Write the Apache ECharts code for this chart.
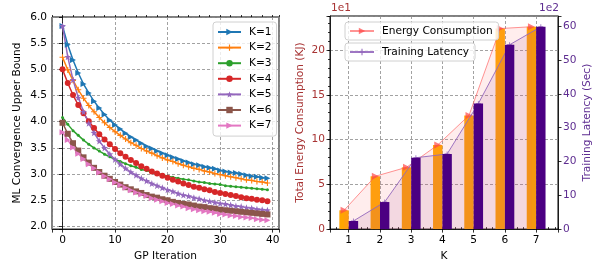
<!DOCTYPE html>
<html>
<head>
<meta charset="utf-8">
<script src="https://cdn.jsdelivr.net/npm/echarts@6/dist/echarts.min.js"></script>
<style>
  html, body { margin: 0; padding: 0; background: #fff; }
  #chart { width: 594px; height: 267px; }
</style>
</head>
<body>
<div id="chart"></div>
<script>
  // left panel: bound vs GP iteration, one curve per K
  const iterations = [...Array(40).keys()]
  const kLabels = ['K=1', 'K=2', 'K=3', 'K=4', 'K=5', 'K=6', 'K=7']
  const conv1 = [5.83, 5.47, 5.18, 4.93, 4.72, 4.55, 4.39, 4.26, 4.14, 4.03, 3.94, 3.86, 3.78, 3.71, 3.65, 3.59, 3.53, 3.49, 3.44, 3.40,
                 3.36, 3.32, 3.29, 3.25, 3.22, 3.19, 3.17, 3.14, 3.12, 3.10, 3.07, 3.05, 3.03, 3.02, 3.00, 2.98, 2.96, 2.95, 2.93, 2.92]
  const conv2 = [5.23, 4.99, 4.79, 4.61, 4.45, 4.31, 4.19, 4.08, 3.98, 3.89, 3.81, 3.74, 3.67, 3.60, 3.55, 3.49, 3.44, 3.40, 3.35, 3.31,
                 3.27, 3.24, 3.20, 3.17, 3.14, 3.11, 3.09, 3.06, 3.04, 3.01, 2.99, 2.97, 2.95, 2.93, 2.91, 2.89, 2.88, 2.86, 2.85, 2.83]
  const conv3 = [4.08, 3.95, 3.83, 3.74, 3.65, 3.57, 3.50, 3.44, 3.38, 3.33, 3.28, 3.24, 3.20, 3.16, 3.13, 3.09, 3.07, 3.04, 3.01, 2.99,
                 2.96, 2.94, 2.92, 2.90, 2.89, 2.87, 2.85, 2.84, 2.82, 2.81, 2.80, 2.78, 2.77, 2.76, 2.75, 2.74, 2.73, 2.72, 2.71, 2.70]
  const conv4 = [5.00, 4.74, 4.51, 4.32, 4.16, 4.01, 3.88, 3.76, 3.66, 3.57, 3.48, 3.40, 3.33, 3.27, 3.21, 3.15, 3.10, 3.05, 3.01, 2.97,
                 2.93, 2.89, 2.86, 2.82, 2.79, 2.76, 2.74, 2.71, 2.69, 2.66, 2.64, 2.62, 2.60, 2.58, 2.56, 2.54, 2.53, 2.51, 2.50, 2.48]
  const conv5 = [5.83, 5.24, 4.80, 4.46, 4.19, 3.97, 3.79, 3.63, 3.50, 3.38, 3.28, 3.19, 3.11, 3.04, 2.98, 2.92, 2.87, 2.82, 2.78, 2.74,
                 2.70, 2.67, 2.63, 2.60, 2.58, 2.55, 2.53, 2.50, 2.48, 2.46, 2.44, 2.43, 2.41, 2.39, 2.38, 2.36, 2.35, 2.33, 2.32, 2.31]
  const conv6 = [3.98, 3.77, 3.59, 3.45, 3.32, 3.22, 3.12, 3.04, 2.97, 2.91, 2.85, 2.80, 2.75, 2.71, 2.67, 2.64, 2.60, 2.57, 2.55, 2.52,
                 2.50, 2.47, 2.45, 2.43, 2.42, 2.40, 2.38, 2.37, 2.35, 2.34, 2.32, 2.31, 2.30, 2.29, 2.28, 2.27, 2.26, 2.25, 2.24, 2.23]
  const conv7 = [3.80, 3.65, 3.51, 3.39, 3.29, 3.19, 3.11, 3.03, 2.96, 2.90, 2.84, 2.79, 2.74, 2.69, 2.65, 2.61, 2.58, 2.54, 2.51, 2.48,
                 2.45, 2.43, 2.40, 2.38, 2.35, 2.33, 2.31, 2.29, 2.28, 2.26, 2.24, 2.23, 2.21, 2.20, 2.18, 2.17, 2.16, 2.14, 2.13, 2.12]
  const convAll = [conv1, conv2, conv3, conv4, conv5, conv6, conv7]

  // right panel: energy (x1e1 KJ) and latency (x1e2 s) per K
  const kValues = [1, 2, 3, 4, 5, 6, 7]
  const energy = [2.1, 5.9, 6.9, 9.4, 12.7, 22.4, 22.6]
  const latency = [2.4, 8.0, 21.1, 22.2, 37.1, 54.5, 59.8]

  const font = 'DejaVu Sans'
  const fs = 10.6
  const redTxt = '#a83434'
  const purpleTxt = '#5e2d91'
  const triRight = 'path://M0,0L10,5L0,10Z'
  const plus = 'path://M4.1,0H5.9V4.1H10V5.9H5.9V10H4.1V5.9H0V4.1H4.1Z'
  const star = 'path://M5,0L6.18,3.38L9.76,3.45L6.9,5.62L7.94,9.05L5,7L2.06,9.05L3.1,5.62L0.24,3.45L3.82,3.38Z'
  const kColors = ['#1f77b4', '#ff7f0e', '#2ca02c', '#d62728', '#9467bd', '#8c564b', '#e377c2']
  const kSymbols = [triRight, plus, 'circle', 'circle', star, 'rect', triRight]
  const kSizes = [6, 6, 3, 6, 7, 6, 6]

  const dash = { color: '#8a8a8a', width: 0.8, type: [3, 2] }
  const tick = { color: '#000', width: 0.8 }
  const lbl = { fontFamily: font, fontSize: fs, color: '#000' }
  const every = step => v => (Math.abs(v / step - Math.round(v / step)) < 1e-6 ? String(+v.toFixed(1)) : '')

  const chart = echarts.init(document.getElementById('chart'))

  const convSeries = convAll.map((vals, i) => ({
    name: kLabels[i],
    type: 'line',
    xAxisIndex: 0,
    yAxisIndex: 0,
    data: iterations.map((it, j) => [it, vals[j]]),
    symbol: kSymbols[i],
    symbolSize: kSizes[i],
    lineStyle: { color: kColors[i], width: 1.5 },
    itemStyle: { color: kColors[i] },
  }))

  const boxLegend = {
    padding: [3.5, 6, 3.5, 4], borderColor: '#d0d0d0', borderWidth: 1, borderRadius: 3,
    backgroundColor: 'rgba(255,255,255,0.8)',
    itemWidth: 24, itemHeight: 8,
    textStyle: { ...lbl, padding: [0, 0, 0, 3] },
  }

  chart.setOption({
    animation: false,
    grid: [
      { left: 52, top: 17, width: 227, height: 215, show: true, borderColor: '#000', borderWidth: 1 },
      { left: 330, top: 16, width: 229, height: 216, show: true, borderColor: '#000', borderWidth: 1 },
    ],
    xAxis: [
      {
        type: 'value', gridIndex: 0, min: -2, max: 41.2,
        name: 'GP Iteration', nameLocation: 'middle', nameGap: 19,
        nameTextStyle: lbl,
        axisLine: { show: true, lineStyle: tick },
        axisTick: { show: true, length: 3.5, lineStyle: tick },
        axisLabel: { ...lbl, margin: 6, formatter: every(10) },
        splitLine: { show: true, lineStyle: dash },
      },
      {
        // minor ticks every 2 iterations
        type: 'value', gridIndex: 0, min: -2, max: 41.2, interval: 2,
        axisLine: { show: false }, axisLabel: { show: false }, splitLine: { show: false },
        axisTick: { show: true, length: 2, lineStyle: tick },
      },
      {
        type: 'value', gridIndex: 1, min: 0.4, max: 7.7,
        name: 'K', nameLocation: 'middle', nameGap: 19,
        nameTextStyle: lbl,
        axisLine: { show: true, lineStyle: tick },
        axisTick: { show: true, length: 3.5, lineStyle: tick },
        axisLabel: { ...lbl, margin: 6, formatter: every(1) },
        splitLine: { show: true, lineStyle: dash },
      },
      {
        type: 'value', gridIndex: 1, min: 0.4, max: 7.7, interval: 0.2,
        axisLine: { show: false }, axisLabel: { show: false }, splitLine: { show: false },
        axisTick: { show: true, length: 2, lineStyle: tick },
      },
    ],
    yAxis: [
      {
        type: 'value', gridIndex: 0, min: 1.95, max: 6.0, splitNumber: 8,
        name: 'ML Convergence Upper Bound', nameLocation: 'middle', nameGap: 29,
        nameTextStyle: lbl,
        axisLine: { show: true, lineStyle: tick },
        axisTick: { show: true, length: 3.5, lineStyle: tick },
        axisLabel: {
          ...lbl, margin: 5,
          formatter: v => (Math.abs(v * 2 - Math.round(v * 2)) < 1e-6 ? v.toFixed(1) : ''),
        },
        splitLine: { show: true, lineStyle: dash },
      },
      {
        type: 'value', gridIndex: 1, position: 'left', min: 0, max: 23.8, interval: 5,
        name: 'Total Energy Consumption (KJ)', nameLocation: 'middle', nameGap: 24,
        nameTextStyle: { ...lbl, color: redTxt },
        axisLine: { show: true, lineStyle: tick },
        axisTick: { show: true, length: 3.5, lineStyle: tick },
        axisLabel: { ...lbl, color: redTxt, margin: 5, formatter: every(5) },
        splitLine: { show: true, lineStyle: dash },
      },
      {
        type: 'value', gridIndex: 1, position: 'right', min: 0, max: 63, interval: 10,
        name: 'Training Latency (Sec)', nameLocation: 'middle', nameGap: 24,
        nameTextStyle: { ...lbl, color: purpleTxt },
        axisLine: { show: true, lineStyle: tick },
        axisTick: { show: true, length: 3.5, lineStyle: tick },
        axisLabel: { ...lbl, color: purpleTxt, margin: 5, formatter: every(10) },
        splitLine: { show: false },
      },
      {
        // minor ticks on the energy axis
        type: 'value', gridIndex: 1, position: 'left', min: 0, max: 23.8, interval: 1,
        axisLine: { show: false }, axisLabel: { show: false }, splitLine: { show: false },
        axisTick: { show: true, length: 2, lineStyle: tick },
      },
    ],
    legend: [
      {
        ...boxLegend,
        data: kLabels, orient: 'vertical', left: 213, top: 22,
        itemWidth: 23, itemGap: 4.6,
        padding: [4.5, 5, 5, 4],
      },
      { ...boxLegend, data: ['Energy Consumption'], left: 345, top: 22 },
      { ...boxLegend, data: ['Training Latency'], left: 345, top: 43 },
    ],
    graphic: [
      { type: 'text', left: 331, top: 3, style: { text: '1e1', font: fs + 'px DejaVu Sans', fill: redTxt } },
      { type: 'text', right: 35, top: 3, style: { text: '1e2', font: fs + 'px DejaVu Sans', fill: purpleTxt } },
    ],
    series: [
      ...convSeries,
      {
        name: 'Energy Bars', type: 'bar', xAxisIndex: 2, yAxisIndex: 1,
        data: kValues.map((k, i) => [k, energy[i]]),
        barWidth: 9.4, barGap: '0%', itemStyle: { color: '#ffa500' }, z: 1,
      },
      {
        name: 'Latency Bars', type: 'bar', xAxisIndex: 2, yAxisIndex: 2,
        data: kValues.map((k, i) => [k, latency[i]]),
        barWidth: 9.4, barGap: '0%', itemStyle: { color: '#4b0082' }, z: 4,
      },
      {
        name: 'Energy Consumption', type: 'line', xAxisIndex: 2, yAxisIndex: 1,
        data: kValues.map((k, i) => [k - 0.15, energy[i]]),
        symbol: triRight, symbolSize: 7,
        lineStyle: { color: 'rgba(255,90,90,0.65)', width: 1 },
        itemStyle: { color: 'rgba(255,70,70,0.7)' },
        areaStyle: { color: 'rgba(255,110,110,0.18)' },
        z: 2,
      },
      {
        name: 'Training Latency', type: 'line', xAxisIndex: 2, yAxisIndex: 2,
        data: kValues.map((k, i) => [k + 0.15, latency[i]]),
        symbol: plus, symbolSize: 5,
        lineStyle: { color: 'rgba(148,103,189,0.9)', width: 1 },
        itemStyle: { color: 'rgba(148,103,189,0.9)' },
        areaStyle: { color: 'rgba(150,50,130,0.16)' },
        z: 3,
      },
    ],
  })
</script>
</body>
</html>
